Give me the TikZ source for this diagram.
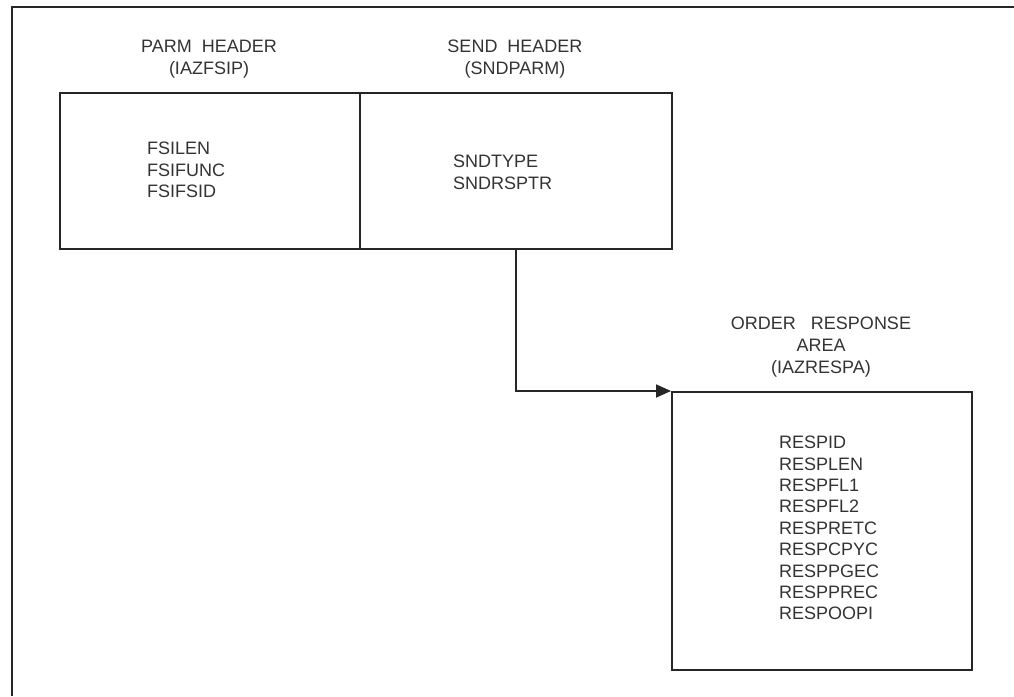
\documentclass[tikz,border=0pt]{standalone}
\usepackage{fontspec}
\setmainfont{Liberation Sans}
\usetikzlibrary{arrows.meta}
\tikzset{
  box/.style={draw=black!85, line width=1.8pt, inner sep=0pt, anchor=north west},
  lbl/.style={inner sep=0pt, align=left, anchor=north west, text=black!80,
    font=\fontsize{18}{21.4}\selectfont},
  hdr/.style={inner sep=0pt, align=center, anchor=north, text=black!80,
    font=\fontsize{18}{22}\selectfont},
  conn/.style={draw=black!85, line width=1.8pt, -{Triangle[length=15pt,width=13pt]}},
}
\begin{document}
\begin{tikzpicture}[x=1pt,y=-1pt]
\useasboundingbox (0,0) rectangle (1014,696);
% outer frame (cropped)
\draw[draw=black!85, line width=2pt] (1014,7) -- (12,7) -- (12,696);
% boxes
\node[box, minimum width=300pt, minimum height=156pt] (parm) at (59,92) {};
\node[box, minimum width=312pt, minimum height=156pt] (send) at (359,92) {};
\node[box, minimum width=300pt, minimum height=278pt] (resp) at (671,391) {};
% headers
\node[hdr] (parmh) at (209,40) {PARM\ \ HEADER\\(IAZFSIP)};
\node[hdr] (sendh) at (515,40) {SEND\ \ HEADER\\(SNDPARM)};
\node[hdr] (resph) at (821,317) {ORDER\ \ \ RESPONSE\\AREA\\(IAZRESPA)};
% field lists
\node[lbl] (parml) at (147,142) {FSILEN\\FSIFUNC\\FSIFSID};
\node[lbl] (sendl) at (453,155) {SNDTYPE\\SNDRSPTR};
\node[lbl] (respl) at (779,436) {RESPID\\RESPLEN\\RESPFL1\\RESPFL2\\RESPRETC\\RESPCPYC\\RESPPGEC\\RESPPREC\\RESPOOPI};
% connector
\draw[conn] (send.south) |- (resp.north west);
\end{tikzpicture}
\end{document}
